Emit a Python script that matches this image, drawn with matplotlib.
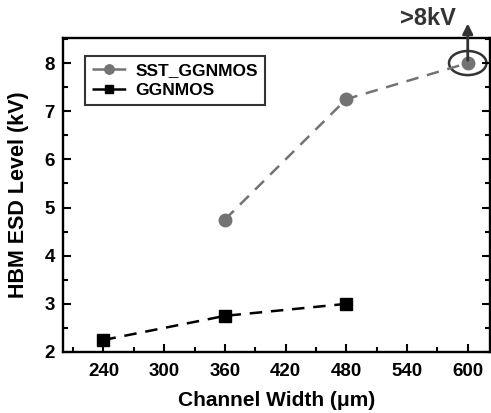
import matplotlib
matplotlib.use("Agg")
import matplotlib.pyplot as plt
from matplotlib.patches import Ellipse
from matplotlib.ticker import MultipleLocator

plt.rcParams['font.family'] = ['Liberation Sans', 'DejaVu Sans']
plt.rcParams['font.weight'] = 'bold'

sst_x = [360, 480, 600]
sst_y = [4.75, 7.25, 8.0]
gg_x = [240, 360, 480]
gg_y = [2.25, 2.75, 3.0]
xticks = [240, 300, 360, 420, 480, 540, 600]
yticks = [2, 3, 4, 5, 6, 7, 8]

fig = plt.figure(figsize=(4.91, 4.13), dpi=100)
ax = fig.add_axes([63/491, 1-352/413, (490-63)/491, (352-38)/413])

ax.plot(sst_x, sst_y, linestyle=(0, (5, 3.5)), color='#737373', lw=1.8,
        marker='o', markersize=9, label='SST_GGNMOS')
ax.plot(gg_x, gg_y, linestyle=(0, (5, 3.5)), color='black', lw=1.8,
        marker='s', markersize=8.5, label='GGNMOS')

ax.set_xlim(200, 622)
ax.set_ylim(2, 8.52)
ax.set_xticks(xticks)
ax.set_yticks(yticks)
ax.xaxis.set_minor_locator(MultipleLocator(30))
ax.yaxis.set_minor_locator(MultipleLocator(0.5))
ax.tick_params(which='both', direction='in', right=True, top=False, width=1.5)
ax.tick_params(which='major', length=6, labelsize=13.5, pad=6)
ax.tick_params(axis='x', which='major', pad=8)
ax.tick_params(which='minor', length=3.5)
for s in ax.spines.values():
    s.set_linewidth(1.7)

ax.set_xlabel('Channel Width (\u03bcm)', fontsize=15, fontweight='bold', labelpad=8)
ax.set_ylabel('HBM ESD Level (kV)', fontsize=15.5, fontweight='bold', labelpad=11)

leg = ax.legend(loc='upper left', fontsize=12.5, frameon=True, fancybox=False,
                edgecolor='black', handlelength=2.0, markerscale=0.75,
                handletextpad=0.5, borderpad=0.4, labelspacing=0.3,
                borderaxespad=0, bbox_to_anchor=(22/427, (352-56)/314))
leg.get_frame().set_linewidth(1.5)
for t in leg.get_texts():
    t.set_fontweight('bold')

ell = Ellipse((600, 8.0), width=37, height=0.5, fill=False, edgecolor='#333333',
              lw=1.8, clip_on=False)
ax.add_patch(ell)
ax.annotate('', xy=(600, 8.88), xytext=(600, 8.0),
            arrowprops=dict(arrowstyle='-|>', color='#333333', lw=2,
                            mutation_scale=15), annotation_clip=False)
ax.text(561, 8.92, '>8kV', fontsize=17, fontweight='bold', color='#333333',
        ha='center', va='center', clip_on=False)

fig.savefig('out.png', dpi=100)
